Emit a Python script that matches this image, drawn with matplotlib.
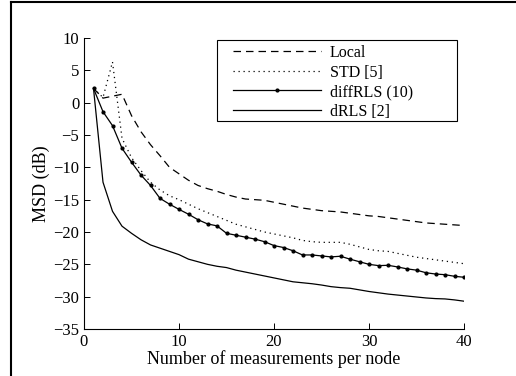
import numpy as np
import matplotlib
matplotlib.use("Agg")
import matplotlib.pyplot as plt
from matplotlib.lines import Line2D
from matplotlib.patches import Rectangle

plt.rcParams['font.family'] = ['Liberation Serif', 'DejaVu Serif']

n = np.arange(1, 41)

local = [2.2, 0.7, 1.0, 1.3, -2.0, -4.5, -6.5, -8.2, -10.0, -11.0,
         -12.0, -12.8, -13.3, -13.7, -14.2, -14.6, -14.9, -15.0, -15.1, -15.4,
         -15.7, -16.0, -16.3, -16.5, -16.7, -16.8, -16.9, -17.1, -17.3, -17.5,
         -17.6, -17.8, -18.0, -18.2, -18.4, -18.6, -18.7, -18.8, -18.9, -19.0]
std5 = [2.2, 0.8, 6.3, -5.5, -8.5, -10.5, -12.3, -13.5, -14.4, -15.0,
        -15.7, -16.4, -17.0, -17.6, -18.2, -18.8, -19.2, -19.6, -20.0, -20.3,
        -20.6, -20.9, -21.3, -21.5, -21.6, -21.6, -21.6, -21.9, -22.3, -22.7,
        -22.9, -23.0, -23.3, -23.6, -23.9, -24.1, -24.3, -24.5, -24.7, -24.9]
diffrls = [2.2, -1.4, -3.55, -7.05, -9.2, -11.2, -12.8, -14.8, -15.7, -16.5,
           -17.25, -18.1, -18.75, -19.05, -20.2, -20.5, -20.8, -21.1, -21.5, -22.1,
           -22.4, -22.9, -23.55, -23.55, -23.7, -23.85, -23.75, -24.2, -24.6, -25.0,
           -25.2, -25.15, -25.4, -25.7, -25.9, -26.3, -26.5, -26.6, -26.85, -27.0]
drls = [2.2, -12.3, -16.8, -19.1, -20.2, -21.2, -22.0, -22.5, -23.0, -23.5,
        -24.2, -24.6, -25.0, -25.3, -25.5, -25.9, -26.2, -26.5, -26.8, -27.1,
        -27.4, -27.7, -27.85, -28.0, -28.2, -28.45, -28.6, -28.7, -28.95, -29.2,
        -29.4, -29.6, -29.75, -29.9, -30.05, -30.2, -30.3, -30.35, -30.5, -30.7]

labels = ['Local', 'STD [5]', 'diffRLS (10)', 'dRLS [2]']

fig = plt.figure(figsize=(5.16, 3.76), dpi=100)
ax = fig.add_axes([84/516, 1-329/376, 380/516, 291/376])

ax.plot(n, local, 'k--', lw=0.9, dashes=(6, 4), label=labels[0])
ax.plot(n, std5, 'k:', lw=0.9, dashes=(1, 3), label=labels[1])
ax.plot(n, diffrls, 'k-', lw=0.9, marker='.', ms=4, label=labels[2])
ax.plot(n, drls, 'k-', lw=0.9, label=labels[3])

ax.set_xlim(0, 40)
ax.set_ylim(-35, 10)
ax.set_xticks([0, 10, 20, 30, 40])
ax.set_yticks(np.arange(-35, 11, 5))
ax.spines['top'].set_visible(False)
ax.spines['right'].set_visible(False)
ax.tick_params(direction='in', length=4, width=0.7, labelsize=12)
for s in ('left', 'bottom'):
    ax.spines[s].set_linewidth(0.8)
ax.set_xlabel('Number of measurements per node', fontsize=13, labelpad=0)
ax.set_ylabel('MSD (dB)', fontsize=13, labelpad=2)

# legend: entries without frame, frame drawn separately (MATLAB-like margins)
handles = [Line2D([], [], color='k', ls='--', lw=0.9, dashes=(6, 4)),
           Line2D([], [], color='k', ls=':', lw=0.9, dashes=(1, 3)),
           Line2D([], [], color='k', ls='-', lw=0.9, marker='.', ms=4, markevery=[1]),
           Line2D([], [], color='k', ls='-', lw=0.9)]
leg = ax.legend(handles, labels, loc='upper left',
                bbox_to_anchor=(233/516, 1-45/376),
                bbox_transform=fig.transFigure, fontsize=11.5,
                handlelength=5.5, handletextpad=0.55, labelspacing=0.22,
                borderpad=0, borderaxespad=0, frameon=False)
fig.add_artist(Rectangle((217/516, 1-121/376), 240/516, 81/376, fill=False,
                         edgecolor='k', lw=0.8, transform=fig.transFigure))

# frame of the whole figure (left and top edges only visible)
fig.add_artist(Line2D([11/516, 11/516], [0, 1-2/376], color='k', lw=1.5, transform=fig.transFigure))
fig.add_artist(Line2D([11/516, 1], [1-2/376, 1-2/376], color='k', lw=1.5, transform=fig.transFigure))

fig.savefig('out.png', dpi=100)
